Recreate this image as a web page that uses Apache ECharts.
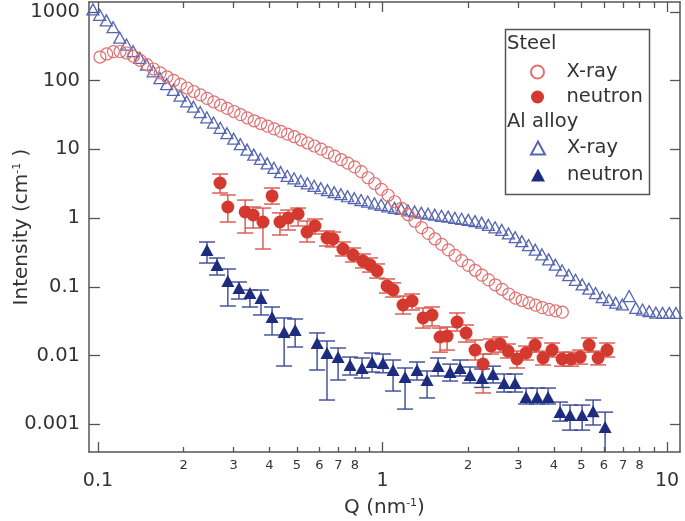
<!DOCTYPE html>
<html><head><meta charset="utf-8">
<script src="https://cdn.jsdelivr.net/npm/echarts@6/dist/echarts.min.js"></script>
<style>html,body{margin:0;padding:0;background:#fff}#c{width:685px;height:521px}</style>
</head><body><div id="c"></div>
<script>
// ---------- data ----------
const steelXrayQ = [0.1016,0.1073,0.1133,0.1196,0.1262,0.1333,0.1407,0.1485,0.1568,0.1655,0.1748,0.1845,0.1948,0.2056,0.2171,0.2292,0.2419,0.2554,0.2697,0.2847,0.3006,0.3173,0.3350,0.3537,0.3734,0.3942,0.4161,0.4393,0.4638,0.4896,0.5170,0.5458,0.5762,0.6083,0.6422,0.6779,0.7157,0.7555,0.7976,0.8421,0.8892,0.9387,0.9910,1.0462,1.1045,1.1660,1.2309,1.2995,1.3718,1.4482,1.5292,1.6143,1.7042,1.7991,1.8993,2.0051,2.1167,2.2346,2.3591,2.4904,2.6305,2.7770,2.9316,3.0949,3.2672,3.4492,3.6412,3.8440,4.0581,4.2840];
const steelXrayI = [221,245,265,266,253,227,198,171,148,130,114,101,88.3,78.3,69.6,62.1,55.3,49.1,44.0,39.5,35.6,32.0,28.8,26.1,23.8,21.8,19.9,18.3,16.7,15.3,13.8,12.4,11.2,10.1,8.98,7.99,7.08,6.30,5.58,4.75,3.87,3.19,2.62,2.15,1.73,1.39,1.12,0.901,0.727,0.599,0.497,0.414,0.344,0.287,0.241,0.205,0.174,0.148,0.126,0.107,0.0920,0.0786,0.0685,0.0632,0.0585,0.0540,0.0498,0.0469,0.0447,0.0427];

const alXrayQ = [0.0960,0.1014,0.1070,0.1130,0.1193,0.1259,0.1329,0.1403,0.1481,0.1564,0.1651,0.1743,0.1840,0.1943,0.2051,0.2165,0.2286,0.2413,0.2547,0.2689,0.2840,0.2998,0.3165,0.3341,0.3527,0.3724,0.3931,0.4150,0.4381,0.4625,0.4886,0.5158,0.5445,0.5749,0.6069,0.6407,0.6764,0.7140,0.7538,0.7958,0.8403,0.8871,0.9365,0.9887,1.0437,1.1019,1.1632,1.2280,1.2964,1.3686,1.4454,1.5259,1.6109,1.7006,1.7953,1.8953,2.0009,2.1123,2.2300,2.3542,2.4858,2.6242,2.7704,2.9247,3.0876,3.2596,3.4411,3.6328,3.8351,4.0487,4.2750,4.5131,4.7645,5.0298,5.3100,5.6058,5.9180,6.2476,6.5956,6.9630,7.3529,7.7624,8.1948,8.6512,9.1331,9.6418,10.179,10.746];
const alXrayI = [1091,910,755,601,423,336,269,215,172,137,109,89.2,73.5,60.5,49.9,41.8,35.0,29.3,24.6,20.6,17.2,14.3,11.9,9.93,8.40,7.25,6.26,5.40,4.67,4.13,3.80,3.49,3.21,2.95,2.72,2.55,2.38,2.23,2.08,1.95,1.83,1.74,1.64,1.56,1.48,1.41,1.36,1.30,1.25,1.20,1.16,1.12,1.08,1.05,1.01,0.977,0.942,0.904,0.860,0.796,0.735,0.673,0.597,0.527,0.461,0.405,0.347,0.296,0.251,0.210,0.174,0.1485,0.1264,0.1083,0.0938,0.0812,0.0710,0.0643,0.0587,0.0554,0.0734,0.0493,0.0466,0.0441,0.0420,0.0416,0.0416,0.0416];

const steelNeutronQ = [0.2685,0.286,0.329,0.351,0.380,0.409,0.436,0.466,0.505,0.543,0.579,0.638,0.670,0.726,0.788,0.854,0.904,0.957,1.037,1.089,1.180,1.270,1.388,1.493,1.593,1.686,1.828,1.966,2.114,2.256,2.406,2.588,2.761,2.970,3.194,3.436,3.666,3.944,4.276,4.598,4.946,5.319,5.722,6.153];
const steelNeutronI = [3.24,1.45,1.23,1.11,0.877,2.10,0.877,1.00,1.15,0.627,0.768,0.513,0.497,0.355,0.290,0.237,0.208,0.170,0.103,0.090,0.0543,0.0621,0.0352,0.0389,0.0186,0.0192,0.0307,0.0213,0.0120,0.00752,0.0137,0.0147,0.0116,0.0089,0.0109,0.0142,0.0092,0.0120,0.0089,0.0089,0.0095,0.0142,0.0092,0.0120];
const steelNeutronHi = [4.38,2.17,1.83,1.45,1.40,2.74,1.19,1.31,1.40,0.907,0.970,0.649,0.627,0.449,0.367,0.300,0.263,0.215,0.130,0.114,0.0734,0.0785,0.0491,0.0508,0.0251,0.0260,0.0416,0.0278,0.0168,0.0105,0.0174,0.0186,0.0147,0.0116,0.0137,0.0180,0.0116,0.0152,0.0112,0.0112,0.0120,0.0180,0.0116,0.0152];
const steelNeutronLo = [2.32,0.877,0.607,0.718,0.355,1.60,0.568,0.671,0.768,0.449,0.587,0.393,0.380,0.281,0.230,0.188,0.164,0.134,0.0812,0.0710,0.0402,0.0460,0.0251,0.0269,0.0112,0.0120,0.0227,0.0157,0.0086,0.00285,0.0105,0.0112,0.0092,0.00658,0.0086,0.0112,0.00728,0.0095,0.0070,0.0070,0.0075,0.0112,0.0073,0.0095];

const alNeutronQ = [0.2416,0.262,0.286,0.313,0.342,0.374,0.409,0.451,0.493,0.589,0.638,0.698,0.769,0.847,0.919,1.004,1.089,1.200,1.322,1.434,1.567,1.728,1.873,2.030,2.237,2.445,2.674,2.922,3.194,3.492,3.817,4.207,4.560,5.027,5.495,6.055];
const alNeutronI = [0.343,0.2076,0.1215,0.0960,0.0812,0.0687,0.0363,0.0220,0.0235,0.0152,0.01087,0.0095,0.00728,0.00658,0.00804,0.00778,0.00615,0.00486,0.00615,0.0044,0.00703,0.00575,0.00658,0.0052,0.0047,0.00538,0.00398,0.00398,0.00249,0.00249,0.00249,0.00151,0.00136,0.00136,0.00155,0.00091];
const alNeutronHi = [0.449,0.2626,0.1816,0.1175,0.0898,0.0898,0.0508,0.0352,0.0340,0.0213,0.01626,0.01286,0.0095,0.0092,0.01087,0.0105,0.0086,0.00658,0.00804,0.00595,0.0092,0.0075,0.0086,0.0068,0.00636,0.0070,0.00538,0.00538,0.00336,0.00336,0.00336,0.0021,0.0019,0.0019,0.00225,0.0015];
const alNeutronLo = [0.222,0.1485,0.0526,0.0664,0.0508,0.0389,0.0199,0.00703,0.0133,0.00615,0.00225,0.0044,0.0052,0.0047,0.00575,0.0056,0.00304,0.00166,0.0044,0.00241,0.00503,0.00425,0.00503,0.00398,0.00343,0.00398,0.00294,0.00294,0.00197,0.00197,0.00197,0.00111,0.00082,0.00082,0.000974,0.0003];

const xMajorTicks = [0.1, 1, 10];
const xMinorTicks = [0.2,0.3,0.4,0.5,0.6,0.7,0.8,0.9,2,3,4,5,6,7,8,9];
const xMinorLabels = [0.2,0.3,0.4,0.5,0.6,0.7,0.8,2,3,4,5,6,7,8];
const yTicks = [0.001, 0.01, 0.1, 1, 10, 100, 1000];
const xRange = [0.093, 11.1];
const yRange = [0.000394, 1398];

// ---------- styles ----------
const FONT = 'DejaVu Sans';
const AX = '#555';
const TXT = '#333';
const cSteelX = '#e07070', cSteelN = '#d3392f', cAlX = '#5565b2', cAlN = '#1e2c80';
const cSteelErr = '#d9544a', cAlErr = '#3a4996';

function fmtNum(v){ return String(Number(v.toPrecision(4))); }
function leadDigit(v){ const p = Math.pow(10, Math.floor(Math.log10(v) + 1e-9)); return String(Math.round(v / p)); }

function xAxisDef(pos, ticks, tickLen, labels, showLine, labelOpts){
  return {
    type: 'log', logBase: 10, position: pos, min: xRange[0], max: xRange[1], gridIndex: 0,
    axisLine: {show: showLine, onZero: false, lineStyle: {color: AX, width: 1.5}},
    axisTick: {show: true, inside: true, length: tickLen, customValues: ticks, lineStyle: {color: AX, width: 1.3}},
    minorTick: {show: false},
    splitLine: {show: false},
    axisLabel: Object.assign({show: !!labels, customValues: labels || ticks, fontFamily: FONT, color: TXT}, labelOpts || {})
  };
}

const supStyle = {fontFamily: FONT, fontSize: 11, color: TXT, verticalAlign: 'top', padding: [0, 0, 8, 0]};

const xAxes = [
  Object.assign(xAxisDef('bottom', xMajorTicks, 10, xMajorTicks, true,
    {fontSize: 19, margin: 20, formatter: v => fmtNum(v)}),
    {name: 'Q (nm{sup|-1})', nameLocation: 'middle', nameGap: 46, nameMoveOverlap: false,
     nameTextStyle: {fontFamily: FONT, fontSize: 20, color: TXT, rich: {sup: supStyle}}}),
  xAxisDef('bottom', xMinorTicks, 5, xMinorLabels, false, {fontSize: 13, margin: 7, formatter: v => leadDigit(v)}),
  xAxisDef('top', xMajorTicks, 10, null, true),
  xAxisDef('top', xMinorTicks, 6, null, false)
];

const yAxes = [
  {type: 'log', logBase: 10, position: 'left', min: yRange[0], max: yRange[1],
   axisLine: {show: true, onZero: false, lineStyle: {color: AX, width: 1.5}},
   axisTick: {show: true, inside: true, length: 11, customValues: yTicks, lineStyle: {color: AX, width: 1.3}},
   splitLine: {show: false},
   axisLabel: {customValues: yTicks, fontFamily: FONT, fontSize: 19.5, color: TXT, margin: 9, formatter: v => fmtNum(v)},
   name: 'Intensity (cm{sup|-1} )', nameLocation: 'middle', nameGap: 57, nameRotate: 90, nameMoveOverlap: false,
   nameTextStyle: {fontFamily: FONT, fontSize: 20, color: TXT, rich: {sup: supStyle}}},
  {type: 'log', logBase: 10, position: 'right', min: yRange[0], max: yRange[1],
   axisLine: {show: true, onZero: false, lineStyle: {color: AX, width: 1.5}},
   axisTick: {show: true, inside: true, length: 10, customValues: yTicks, lineStyle: {color: AX, width: 1.3}},
   splitLine: {show: false}, axisLabel: {show: false}}
];

function errRender(color){
  return function(params, api){
    const x = api.value(0);
    const top = api.coord([x, api.value(3)]);
    const bot = api.coord([x, api.value(2)]);
    const hw = 8;
    const st = {stroke: color, lineWidth: 1.4, fill: null};
    return {type: 'group', children: [
      {type: 'line', shape: {x1: top[0], y1: top[1], x2: bot[0], y2: bot[1]}, style: st},
      {type: 'line', shape: {x1: top[0]-hw, y1: top[1], x2: top[0]+hw, y2: top[1]}, style: st},
      {type: 'line', shape: {x1: bot[0]-hw, y1: bot[1], x2: bot[0]+hw, y2: bot[1]}, style: st}
    ]};
  };
}
const zip2 = (a, b) => a.map((v, i) => [v, b[i]]);
const zip4 = (a, b, c, d) => a.map((v, i) => [v, b[i], c[i], d[i]]);

const series = [
  {name: 'Steel neutron err', type: 'custom', renderItem: errRender(cSteelErr), data: zip4(steelNeutronQ, steelNeutronI, steelNeutronLo, steelNeutronHi), encode: {x: 0, y: 1}, clip: true, z: 1, silent: true},
  {name: 'Al neutron err', type: 'custom', renderItem: errRender(cAlErr), data: zip4(alNeutronQ, alNeutronI, alNeutronLo, alNeutronHi), encode: {x: 0, y: 1}, clip: true, z: 1, silent: true},
  {name: 'Al X-ray', type: 'scatter', data: zip2(alXrayQ, alXrayI), symbol: 'triangle', symbolSize: [12, 11], clip: true, z: 2,
   itemStyle: {color: 'rgba(255,255,255,0)', borderColor: cAlX, borderWidth: 1.3, opacity: 1}},
  {name: 'Steel X-ray', type: 'scatter', data: zip2(steelXrayQ, steelXrayI), symbol: 'circle', symbolSize: 12, clip: true, z: 3,
   itemStyle: {color: 'rgba(255,255,255,0)', borderColor: cSteelX, borderWidth: 1.2, opacity: 1}},
  {name: 'Steel neutron', type: 'scatter', data: zip2(steelNeutronQ, steelNeutronI), symbol: 'circle', symbolSize: 13, clip: true, z: 4,
   itemStyle: {color: cSteelN, opacity: 1}},
  {name: 'Al neutron', type: 'scatter', data: zip2(alNeutronQ, alNeutronI), symbol: 'triangle', symbolSize: [13, 12], clip: true, z: 4,
   itemStyle: {color: cAlN, opacity: 1}}
];

const legendCommon = {orient: 'vertical', itemWidth: 14, itemHeight: 13, padding: 0,
  selectedMode: false, formatter: n => n.replace(/^(Steel|Al) /, ''),
  textStyle: {fontFamily: FONT, fontSize: 19.5, color: TXT, lineHeight: 20, padding: [0, 0, 0, 17]}};

const option = {
  animation: false,
  backgroundColor: '#fff',
  grid: {left: 89, right: 5, top: 2, bottom: 69, containLabel: false, outerBoundsMode: 'none'},
  xAxis: xAxes,
  yAxis: yAxes,
  legend: [
    Object.assign({}, legendCommon, {left: 530, top: 62, itemGap: 5, data: ['Steel X-ray', 'Steel neutron']}),
    Object.assign({}, legendCommon, {left: 530, top: 138, itemGap: 7, data: ['Al X-ray', 'Al neutron']})
  ],
  graphic: [
    {type: 'rect', left: 503, top: 27, shape: {width: 144, height: 165}, style: {fill: 'none', stroke: AX, lineWidth: 1.5}, z: 100},
    {type: 'text', left: 507, top: 34, style: {text: 'Steel', fontFamily: FONT, fontSize: 19.5, fill: TXT}, z: 100},
    {type: 'text', left: 507, top: 112, style: {text: 'Al alloy', fontFamily: FONT, fontSize: 19.5, fill: TXT}, z: 100}
  ],
  series: series
};

const chart = echarts.init(document.getElementById('c'), null, {renderer: 'canvas'});
chart.setOption(option);
</script>
</body></html>
